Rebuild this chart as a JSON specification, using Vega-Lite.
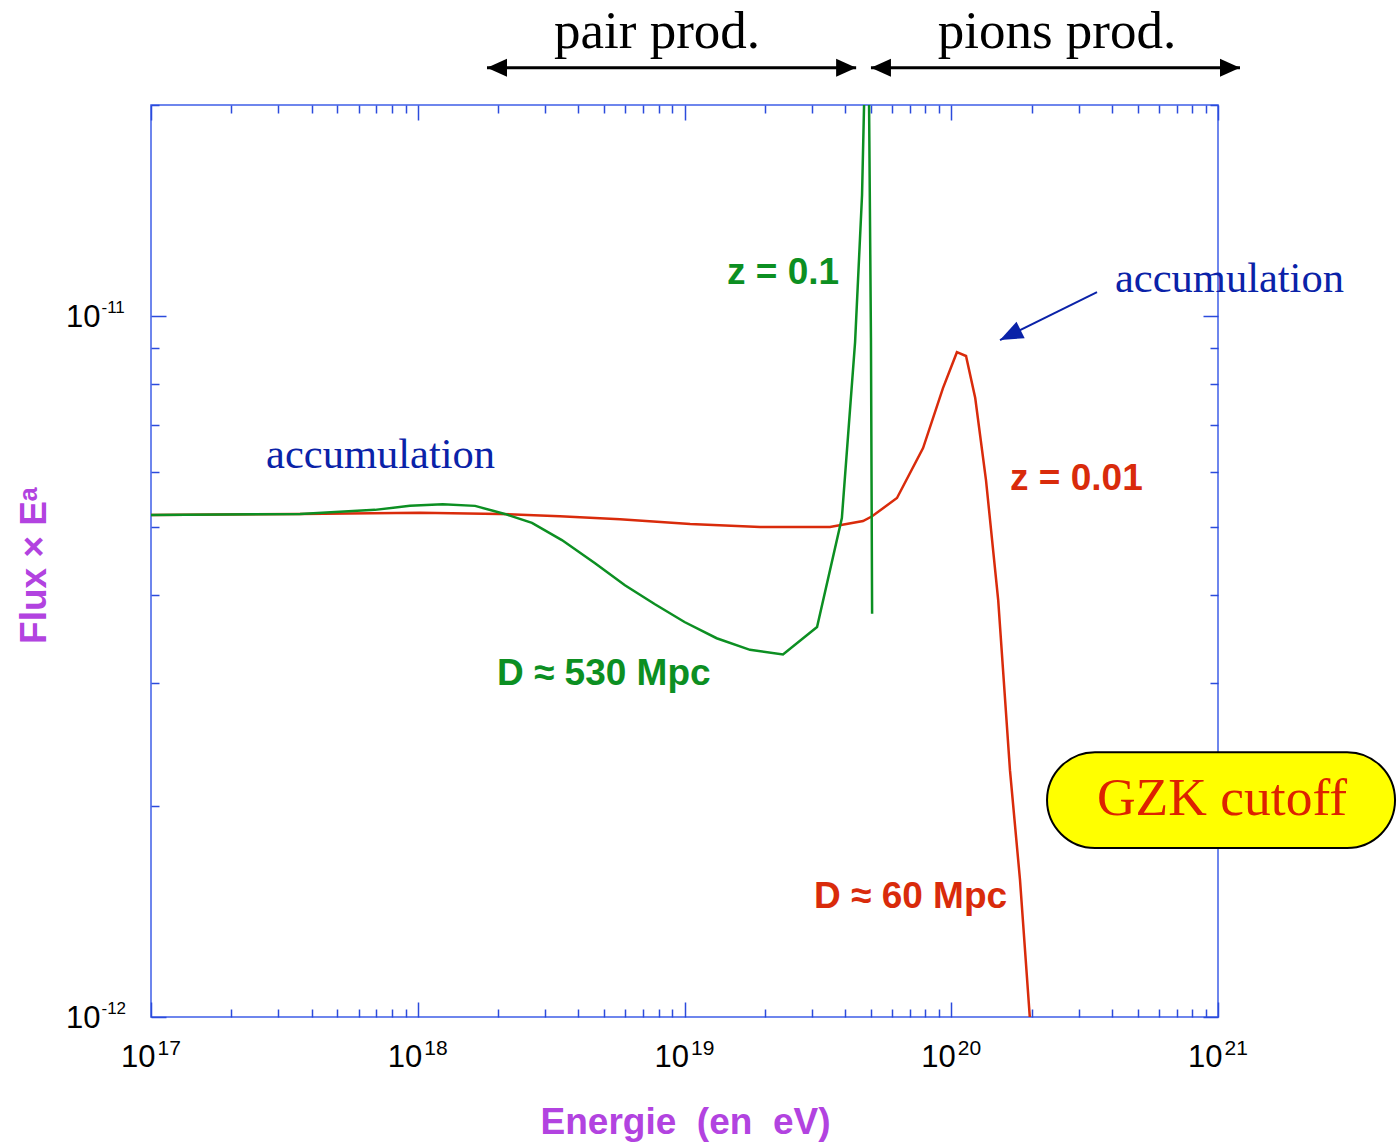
{
  "$schema": "https://vega.github.io/schema/vega-lite/v6.json",
  "width": 1067,
  "height": 912,
  "autosize": {"type": "none"},
  "padding": {"left": 151, "top": 105, "right": 179, "bottom": 127},
  "background": "white",
  "config": {
    "view": {"stroke": "#3f5fe8", "strokeWidth": 1.5},
    "axis": {"grid": false, "domain": false, "tickColor": "#2b4bdc", "tickWidth": 1.5, "labelColor": "black", "labelFont": "Liberation Sans", "labelOverlap": false, "labelFlush": false, "labelBound": false}
  },
  "datasets": {
    "red": [
      {"E": 1e17, "F": 5.20e-12},
      {"E": 3.62e17, "F": 5.22e-12},
      {"E": 1.02e18, "F": 5.24e-12},
      {"E": 2.03e18, "F": 5.22e-12},
      {"E": 3.41e18, "F": 5.18e-12},
      {"E": 5.73e18, "F": 5.13e-12},
      {"E": 1.05e19, "F": 5.05e-12},
      {"E": 1.92e19, "F": 5.00e-12},
      {"E": 3.51e19, "F": 5.00e-12},
      {"E": 4.67e19, "F": 5.10e-12},
      {"E": 5.05e19, "F": 5.18e-12},
      {"E": 6.26e19, "F": 5.50e-12},
      {"E": 7.84e19, "F": 6.48e-12},
      {"E": 9.31e19, "F": 7.89e-12},
      {"E": 1.05e20, "F": 8.88e-12},
      {"E": 1.136e20, "F": 8.77e-12},
      {"E": 1.23e20, "F": 7.64e-12},
      {"E": 1.35e20, "F": 5.83e-12},
      {"E": 1.50e20, "F": 3.93e-12},
      {"E": 1.66e20, "F": 2.25e-12},
      {"E": 1.81e20, "F": 1.57e-12},
      {"E": 1.97e20, "F": 1.0e-12}
    ],
    "green": [
      {"E": 1e17, "F": 5.20e-12},
      {"E": 3.62e17, "F": 5.22e-12},
      {"E": 6.91e17, "F": 5.29e-12},
      {"E": 9.35e17, "F": 5.36e-12},
      {"E": 1.24e18, "F": 5.39e-12},
      {"E": 1.64e18, "F": 5.36e-12},
      {"E": 2.12e18, "F": 5.22e-12},
      {"E": 2.68e18, "F": 5.07e-12},
      {"E": 3.47e18, "F": 4.79e-12},
      {"E": 4.62e18, "F": 4.44e-12},
      {"E": 5.98e18, "F": 4.13e-12},
      {"E": 7.75e18, "F": 3.88e-12},
      {"E": 1.00e19, "F": 3.66e-12},
      {"E": 1.32e19, "F": 3.47e-12},
      {"E": 1.76e19, "F": 3.34e-12},
      {"E": 2.34e19, "F": 3.29e-12},
      {"E": 3.14e19, "F": 3.60e-12},
      {"E": 3.89e19, "F": 5.15e-12},
      {"E": 4.36e19, "F": 9.18e-12},
      {"E": 4.63e19, "F": 1.488e-11},
      {"E": 4.86e19, "F": 3.38e-11},
      {"E": 4.92e19, "F": 1.99e-11},
      {"E": 5.00e19, "F": 9.30e-12},
      {"E": 5.05e19, "F": 3.76e-12}
    ],
    "arrows": [
      {"x1": 1.818e18, "x2": 4.40e19, "y": 2.26e-11},
      {"x1": 5.00e19, "x2": 1.209e21, "y": 2.26e-11}
    ],
    "bluearrow": [
      {"x1": 3.52e20, "y1": 1.082e-11, "x2": 1.523e20, "y2": 9.24e-12}
    ]
  },
  "resolve": {"axis": {"x": "independent", "y": "independent"}},
  "layer": [
    {
      "data": {"values": [{"x1": 2.286e20, "x2": 4.61e21, "y1": 2.387e-12, "y2": 1.742e-12}]},
      "mark": {"type": "rect", "fill": "#ffff00", "stroke": "black", "strokeWidth": 2, "cornerRadius": 48},
      "encoding": {
        "x": {"field": "x1", "type": "quantitative", "scale": {"type": "log", "domain": [1e17, 1e21], "nice": false}, "axis": null},
        "x2": {"field": "x2"},
        "y": {"field": "y1", "type": "quantitative", "scale": {"type": "log", "domain": [1e-12, 2e-11], "nice": false}, "axis": null},
        "y2": {"field": "y2"}
      }
    },
    {
      "data": {"name": "red"},
      "mark": {"type": "line", "color": "#d92b0b", "strokeWidth": 2.5, "clip": true},
      "encoding": {
        "x": {"field": "E", "type": "quantitative", "scale": {"type": "log", "domain": [1e17, 1e21], "nice": false},
          "axis": {"orient": "bottom", "values": [1e17, 1e18, 1e19, 1e20, 1e21], "labels": false, "ticks": true, "tickSize": -15,
            "title": "Energie\u00a0\u00a0(en\u00a0\u00a0eV)", "titleFont": "Liberation Sans", "titleFontSize": 37, "titleFontWeight": "bold", "titleColor": "#b243e0",
            "titleX": 534, "titleY": 116, "titleBaseline": "alphabetic", "titleAlign": "center", "titleAngle": 0}},
        "y": {"field": "F", "type": "quantitative", "scale": {"type": "log", "domain": [1e-12, 2e-11], "nice": false},
          "axis": {"orient": "left", "values": [1e-12, 1e-11], "labels": false, "ticks": true, "tickSize": -15,
            "title": "Flux × Eᵃ", "titleFont": "Liberation Sans", "titleFontSize": 37, "titleFontWeight": "bold", "titleColor": "#b243e0",
            "titleX": -106, "titleY": 460, "titleBaseline": "alphabetic", "titleAlign": "center", "titleAngle": -90}}
      }
    },
    {
      "data": {"name": "green"},
      "mark": {"type": "line", "color": "#0c8f22", "strokeWidth": 2.5, "clip": true},
      "encoding": {
        "x": {"field": "E", "type": "quantitative", "scale": {"type": "log", "domain": [1e17, 1e21], "nice": false},
          "axis": {"orient": "bottom", "values": [2e17, 3e17, 4e17, 5e17, 6e17, 7e17, 8e17, 9e17, 2e18, 3e18, 4e18, 5e18, 6e18, 7e18, 8e18, 9e18, 2e19, 3e19, 4e19, 5e19, 6e19, 7e19, 8e19, 9e19, 2e20, 3e20, 4e20, 5e20, 6e20, 7e20, 8e20, 9e20], "labels": false, "ticks": true, "tickSize": -8, "title": null}},
        "y": {"field": "F", "type": "quantitative", "scale": {"type": "log", "domain": [1e-12, 2e-11], "nice": false},
          "axis": {"orient": "left", "values": [2e-12, 3e-12, 4e-12, 5e-12, 6e-12, 7e-12, 8e-12, 9e-12, 2e-11], "labels": false, "ticks": true, "tickSize": -8, "title": null}}
      }
    },
    {
      "data": {"name": "arrows"},
      "mark": {"type": "rule", "color": "black", "strokeWidth": 3},
      "encoding": {
        "x": {"field": "x1", "type": "quantitative", "scale": {"type": "log", "domain": [1e17, 1e21], "nice": false},
          "axis": {"orient": "top", "values": [1e17, 1e18, 1e19, 1e20, 1e21], "labels": false, "ticks": true, "tickSize": -15, "title": null}},
        "x2": {"field": "x2"},
        "y": {"field": "y", "type": "quantitative", "scale": {"type": "log", "domain": [1e-12, 2e-11], "nice": false},
          "axis": {"orient": "right", "values": [1e-12, 1e-11], "labels": false, "ticks": true, "tickSize": -15, "title": null}}
      }
    },
    {
      "data": {"name": "arrows"},
      "mark": {"type": "point", "shape": "M0,0L2,-0.9L2,0.9Z", "filled": true, "color": "black", "opacity": 1, "size": 400},
      "encoding": {
        "x": {"field": "x1", "type": "quantitative", "scale": {"type": "log", "domain": [1e17, 1e21], "nice": false},
          "axis": {"orient": "top", "values": [2e17, 3e17, 4e17, 5e17, 6e17, 7e17, 8e17, 9e17, 2e18, 3e18, 4e18, 5e18, 6e18, 7e18, 8e18, 9e18, 2e19, 3e19, 4e19, 5e19, 6e19, 7e19, 8e19, 9e19, 2e20, 3e20, 4e20, 5e20, 6e20, 7e20, 8e20, 9e20], "labels": false, "ticks": true, "tickSize": -8, "title": null}},
        "y": {"field": "y", "type": "quantitative", "scale": {"type": "log", "domain": [1e-12, 2e-11], "nice": false},
          "axis": {"orient": "right", "values": [2e-12, 3e-12, 4e-12, 5e-12, 6e-12, 7e-12, 8e-12, 9e-12, 2e-11], "labels": false, "ticks": true, "tickSize": -8, "title": null}}
      }
    },
    {
      "data": {"name": "arrows"},
      "mark": {"type": "point", "shape": "M0,0L-2,-0.9L-2,0.9Z", "filled": true, "color": "black", "opacity": 1, "size": 400},
      "encoding": {
        "x": {"field": "x2", "type": "quantitative", "scale": {"type": "log", "domain": [1e17, 1e21], "nice": false},
          "axis": {"orient": "bottom", "values": [1e17, 1e18, 1e19, 1e20, 1e21], "ticks": false, "labels": true, "labelExpr": "'10'", "labelFontSize": 31, "labelAlign": "right", "labelBaseline": "alphabetic", "labelOffset": 4, "labelPadding": 49, "title": null}},
        "y": {"field": "y", "type": "quantitative", "scale": {"type": "log", "domain": [1e-12, 2e-11], "nice": false},
          "axis": {"orient": "left", "values": [1e-12, 1e-11], "ticks": false, "labels": true, "labelExpr": "'10'", "labelFontSize": 31, "labelAlign": "right", "labelBaseline": "alphabetic", "labelOffset": 10, "labelPadding": 51, "title": null}}
      }
    },
    {
      "data": {"name": "bluearrow"},
      "mark": {"type": "rule", "color": "#0a22a8", "strokeWidth": 2},
      "encoding": {
        "x": {"field": "x1", "type": "quantitative", "scale": {"type": "log", "domain": [1e17, 1e21], "nice": false},
          "axis": {"orient": "bottom", "values": [1e17, 1e18, 1e19, 1e20, 1e21], "ticks": false, "labels": true, "labelExpr": "'' + round(log(datum.value)/LN10)", "labelFontSize": 21, "labelAlign": "left", "labelBaseline": "alphabetic", "labelOffset": 6, "labelPadding": 37, "title": null}},
        "x2": {"field": "x2"},
        "y": {"field": "y1", "type": "quantitative", "scale": {"type": "log", "domain": [1e-12, 2e-11], "nice": false},
          "axis": {"orient": "left", "values": [1e-12, 1e-11], "ticks": false, "labels": true, "labelExpr": "'' + round(log(datum.value)/LN10)", "labelFontSize": 17, "labelAlign": "left", "labelBaseline": "alphabetic", "labelOffset": -4, "labelPadding": 50, "title": null}},
        "y2": {"field": "y2"}
      }
    },
    {
      "data": {"name": "bluearrow"},
      "mark": {"type": "point", "shape": "M0,0L2,-0.8L2,0.8Z", "filled": true, "color": "#0a22a8", "opacity": 1, "size": 529, "angle": 333.7},
      "encoding": {
        "x": {"field": "x2", "type": "quantitative", "scale": {"type": "log", "domain": [1e17, 1e21], "nice": false}, "axis": null},
        "y": {"field": "y2", "type": "quantitative", "scale": {"type": "log", "domain": [1e-12, 2e-11], "nice": false}, "axis": null}
      }
    },
    {
      "data": {"values": [
        {"text": "pair prod.", "x": 7.89e18, "y": 2.41e-11},
        {"text": "pions prod.", "x": 2.49e20, "y": 2.41e-11}
      ]},
      "mark": {"type": "text", "font": "Liberation Serif", "fontSize": 53, "color": "black", "align": "center", "baseline": "alphabetic"},
      "encoding": {
        "text": {"field": "text"},
        "x": {"field": "x", "type": "quantitative", "scale": {"type": "log", "domain": [1e17, 1e21], "nice": false}, "axis": null},
        "y": {"field": "y", "type": "quantitative", "scale": {"type": "log", "domain": [1e-12, 2e-11], "nice": false}, "axis": null}
      }
    },
    {
      "data": {"values": [
        {"text": "accumulation", "x": 2.70e17, "y": 6.07e-12},
        {"text": "accumulation", "x": 4.11e20, "y": 1.082e-11}
      ]},
      "mark": {"type": "text", "font": "Liberation Serif", "fontSize": 42.5, "color": "#0a22a8", "align": "left", "baseline": "alphabetic"},
      "encoding": {
        "text": {"field": "text"},
        "x": {"field": "x", "type": "quantitative", "scale": {"type": "log", "domain": [1e17, 1e21], "nice": false}, "axis": null},
        "y": {"field": "y", "type": "quantitative", "scale": {"type": "log", "domain": [1e-12, 2e-11], "nice": false}, "axis": null}
      }
    },
    {
      "data": {"values": [
        {"text": "z = 0.1", "x": 1.444e19, "y": 1.111e-11},
        {"text": "D ≈ 530 Mpc", "x": 1.982e18, "y": 2.976e-12}
      ]},
      "mark": {"type": "text", "font": "Liberation Sans", "fontSize": 37, "fontWeight": "bold", "color": "#0c8f22", "align": "left", "baseline": "alphabetic"},
      "encoding": {
        "text": {"field": "text"},
        "x": {"field": "x", "type": "quantitative", "scale": {"type": "log", "domain": [1e17, 1e21], "nice": false}, "axis": null},
        "y": {"field": "y", "type": "quantitative", "scale": {"type": "log", "domain": [1e-12, 2e-11], "nice": false}, "axis": null}
      }
    },
    {
      "data": {"values": [
        {"text": "z = 0.01", "x": 1.661e20, "y": 5.65e-12},
        {"text": "D ≈ 60 Mpc", "x": 3.06e19, "y": 1.43e-12}
      ]},
      "mark": {"type": "text", "font": "Liberation Sans", "fontSize": 37, "fontWeight": "bold", "color": "#d92b0b", "align": "left", "baseline": "alphabetic"},
      "encoding": {
        "text": {"field": "text"},
        "x": {"field": "x", "type": "quantitative", "scale": {"type": "log", "domain": [1e17, 1e21], "nice": false}, "axis": null},
        "y": {"field": "y", "type": "quantitative", "scale": {"type": "log", "domain": [1e-12, 2e-11], "nice": false}, "axis": null}
      }
    },
    {
      "data": {"values": [
        {"text": "GZK cutoff", "x": 1.035e21, "y": 1.942e-12}
      ]},
      "mark": {"type": "text", "font": "Liberation Serif", "fontSize": 53.5, "color": "#dd2200", "align": "center", "baseline": "alphabetic"},
      "encoding": {
        "text": {"field": "text"},
        "x": {"field": "x", "type": "quantitative", "scale": {"type": "log", "domain": [1e17, 1e21], "nice": false}, "axis": null},
        "y": {"field": "y", "type": "quantitative", "scale": {"type": "log", "domain": [1e-12, 2e-11], "nice": false}, "axis": null}
      }
    }
  ]
}
